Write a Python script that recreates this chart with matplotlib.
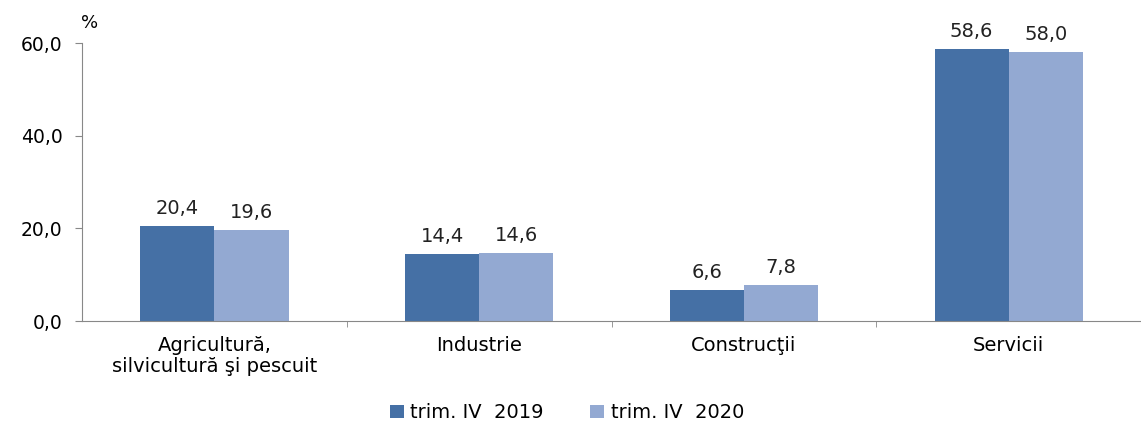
import matplotlib
matplotlib.use("Agg")
import matplotlib.pyplot as plt
import numpy as np

# Date
categorii = ["Agricultură,\nsilvicultură şi pescuit", "Industrie", "Construcţii", "Servicii"]
valori_2019 = [20.4, 14.4, 6.6, 58.6]
valori_2020 = [19.6, 14.6, 7.8, 58.0]
serii = ["trim. IV  2019", "trim. IV  2020"]

culoare_2019 = "#4570a5"
culoare_2020 = "#93a9d2"

# textul din original e mai lat, DejaVu Sans se apropie mai bine
plt.rcParams['font.family'] = ['DejaVu Sans']

fig = plt.figure(figsize=(11.41, 4.25), dpi=100)
ax = fig.add_axes([0.0719, 0.2447, 0.9281, 0.6541])

x = np.arange(len(categorii))
w = 0.28
b1 = ax.bar(x - w / 2, valori_2019, w, color=culoare_2019, label=serii[0])
b2 = ax.bar(x + w / 2, valori_2020, w, color=culoare_2020, label=serii[1])

# Etichete valori
for bars in (b1, b2):
    for r in bars:
        v = r.get_height()
        ax.annotate(f"{v:.1f}".replace(".", ","), (r.get_x() + r.get_width() / 2, v),
                    xytext=(0, 6), textcoords="offset points", ha="center", va="bottom",
                    fontsize=14, color="#222222")

ax.set_xlim(-0.5, 3.46)
ax.set_ylim(0, 60)
ax.set_yticks([0, 20, 40, 60])
ax.set_yticklabels([f"{t:.1f}".replace(".", ",") for t in [0, 20, 40, 60]], fontsize=13.5)

# Etichete categorii (fara linii de tick), tick-uri mici intre categorii
ax.set_xticks(x)
ax.set_xticklabels(categorii, fontsize=14, linespacing=1.1)
ax.tick_params(axis='x', length=0, pad=11)
ax.set_xticks(np.arange(len(categorii)) + 0.5, minor=True)
ax.tick_params(axis='x', which='minor', length=4, color="#888888", direction='out')
ax.tick_params(axis='y', length=5, color="#888888", pad=9)

for s in ["top", "right"]:
    ax.spines[s].set_visible(False)
ax.spines["left"].set_color("#888888")
ax.spines["bottom"].set_color("#888888")

fig.text(0.071, 0.945, "%", fontsize=13, ha="left", va="center")

fig.legend(loc="lower center", bbox_to_anchor=(0.497, -0.035), ncol=2, frameon=False,
           fontsize=14, handlelength=0.7, handleheight=0.7, handletextpad=0.35,
           columnspacing=2.4)

fig.savefig("out.png", dpi=100)
